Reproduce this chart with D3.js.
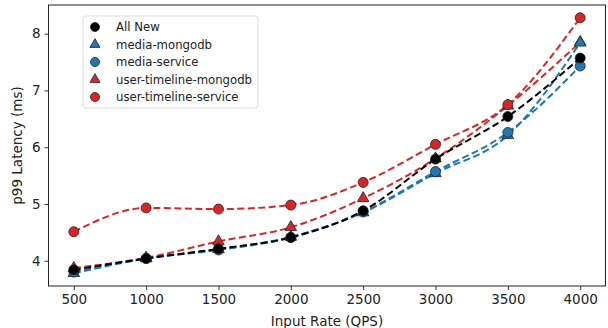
<!DOCTYPE html>
<html>
<head>
<meta charset="utf-8">
<script src="https://cdn.jsdelivr.net/npm/d3@7"></script>
<style>
  body { margin: 0; background: #fff; }
  text { font-family: "DejaVu Sans", sans-serif; fill: #222; }
</style>
</head>
<body>
<script>
// input rates on the x axis
var rates = [500, 1000, 1500, 2000, 2500, 3000, 3500, 4000];

// p99 latency (ms) per series
var allNew             = [3.84, 4.04, 4.21, 4.41, 4.88, 5.79, 6.54, 7.57];
var mediaMongodb       = [3.78, 4.04, 4.20, 4.42, 4.85, 5.54, 6.21, 7.84];
var mediaService       = [3.80, 4.04, 4.19, 4.41, 4.86, 5.57, 6.26, 7.43];
var timelineMongodb    = [3.87, 4.05, 4.34, 4.59, 5.10, 5.80, 6.73, 7.85];
var timelineService    = [4.51, 4.93, 4.91, 4.98, 5.38, 6.05, 6.75, 8.28];

var xTicks = [500, 1000, 1500, 2000, 2500, 3000, 3500, 4000];
var yTicks = [4, 5, 6, 7, 8];

var red = "#d62728", blue = "#1f77b4";

// drawing order: red first, blue over it, black on top
var series = [
  {name: "user-timeline-mongodb", values: timelineMongodb, color: red, shape: "tri"},
  {name: "user-timeline-service", values: timelineService, color: red, shape: "circ"},
  {name: "media-mongodb", values: mediaMongodb, color: blue, shape: "tri"},
  {name: "media-service", values: mediaService, color: blue, shape: "circ"},
  {name: "All New", values: allNew, color: "#000", shape: "circ"}
];
var legendOrder = ["All New", "media-mongodb", "media-service", "user-timeline-mongodb", "user-timeline-service"];

var width = 608, height = 328;
var margin = {left: 48.5, right: 2.5, top: 5, bottom: 42};

var svg = d3.select("body").append("svg")
  .attr("width", width)
  .attr("height", height);

// scales, with matplotlib style 5% padding
var x = d3.scaleLinear().domain([325, 4175]).range([margin.left, width - margin.right]);
var y = d3.scaleLinear().domain([3.555, 8.505]).range([height - margin.bottom, margin.top]);

var xAxis = svg.append("g")
  .attr("transform", "translate(0," + (height - margin.bottom) + ")")
  .call(d3.axisBottom(x).tickValues(xTicks).tickSize(4).tickPadding(4).tickFormat(d3.format("d")));
var yAxis = svg.append("g")
  .attr("transform", "translate(" + margin.left + ",0)")
  .call(d3.axisLeft(y).tickValues(yTicks).tickSize(4).tickPadding(4).tickFormat(d3.format("d")));

[xAxis, yAxis].forEach(function(a) {
  a.select(".domain").remove();
  a.selectAll("line").attr("stroke", "#222").attr("stroke-width", 0.9);
  a.selectAll("text").attr("font-size", 13.5).attr("fill", "#222").attr("font-family", "DejaVu Sans, sans-serif");
});

// frame
svg.append("rect")
  .attr("x", margin.left).attr("y", margin.top)
  .attr("width", width - margin.left - margin.right)
  .attr("height", height - margin.top - margin.bottom)
  .attr("fill", "none").attr("stroke", "#222").attr("stroke-width", 1);

// axis titles
svg.append("text")
  .attr("x", (margin.left + width - margin.right) / 2)
  .attr("y", 326)
  .attr("text-anchor", "middle")
  .attr("font-size", 13.5)
  .text("Input Rate (QPS)");

svg.append("text")
  .attr("transform", "translate(22," + ((margin.top + height - margin.bottom) / 2) + ") rotate(-90)")
  .attr("text-anchor", "middle")
  .attr("font-size", 13.5)
  .text("p99 Latency (ms)");

var line = d3.line()
  .x(function(d, i) { return x(rates[i]); })
  .y(function(d) { return y(d); })
  .curve(d3.curveMonotoneX);

function drawMarker(g, shape, color, small) {
  if (shape == "circ") {
    g.append("circle").attr("r", small ? 4.5 : 5)
      .attr("fill", color).attr("stroke", "#222").attr("stroke-width", 0.8);
  } else {
    g.append("path").attr("d", d3.symbol().type(d3.symbolTriangle).size(small ? 44 : 58)())
      .attr("fill", color).attr("stroke", "#222").attr("stroke-width", 0.8);
  }
}

var plot = svg.append("g");
series.forEach(function(s) {
  plot.append("path")
    .datum(s.values)
    .attr("d", line)
    .attr("fill", "none")
    .attr("stroke", s.color)
    .attr("stroke-width", 2)
    .attr("stroke-dasharray", "7,3.5");
});
series.forEach(function(s) {
  s.values.forEach(function(v, i) {
    var g = plot.append("g").attr("transform", "translate(" + x(rates[i]) + "," + y(v) + ")");
    drawMarker(g, s.shape, s.color);
  });
});

// legend
var legend = svg.append("g").attr("transform", "translate(83,16)");
legend.append("rect")
  .attr("width", 175).attr("height", 92).attr("rx", 3)
  .attr("fill", "#fff").attr("fill-opacity", 0.8)
  .attr("stroke", "#ddd").attr("stroke-width", 1);
legendOrder.forEach(function(name, i) {
  var s = series.find(function(d) { return d.name == name; });
  var row = legend.append("g").attr("transform", "translate(0," + (11 + i * 17.5) + ")");
  drawMarker(row.append("g").attr("transform", "translate(12,0)"), s.shape, s.color, true);
  row.append("text")
    .attr("x", 33).attr("y", 4)
    .attr("font-size", 11.7)
    .text(name);
});
</script>
</body>
</html>
